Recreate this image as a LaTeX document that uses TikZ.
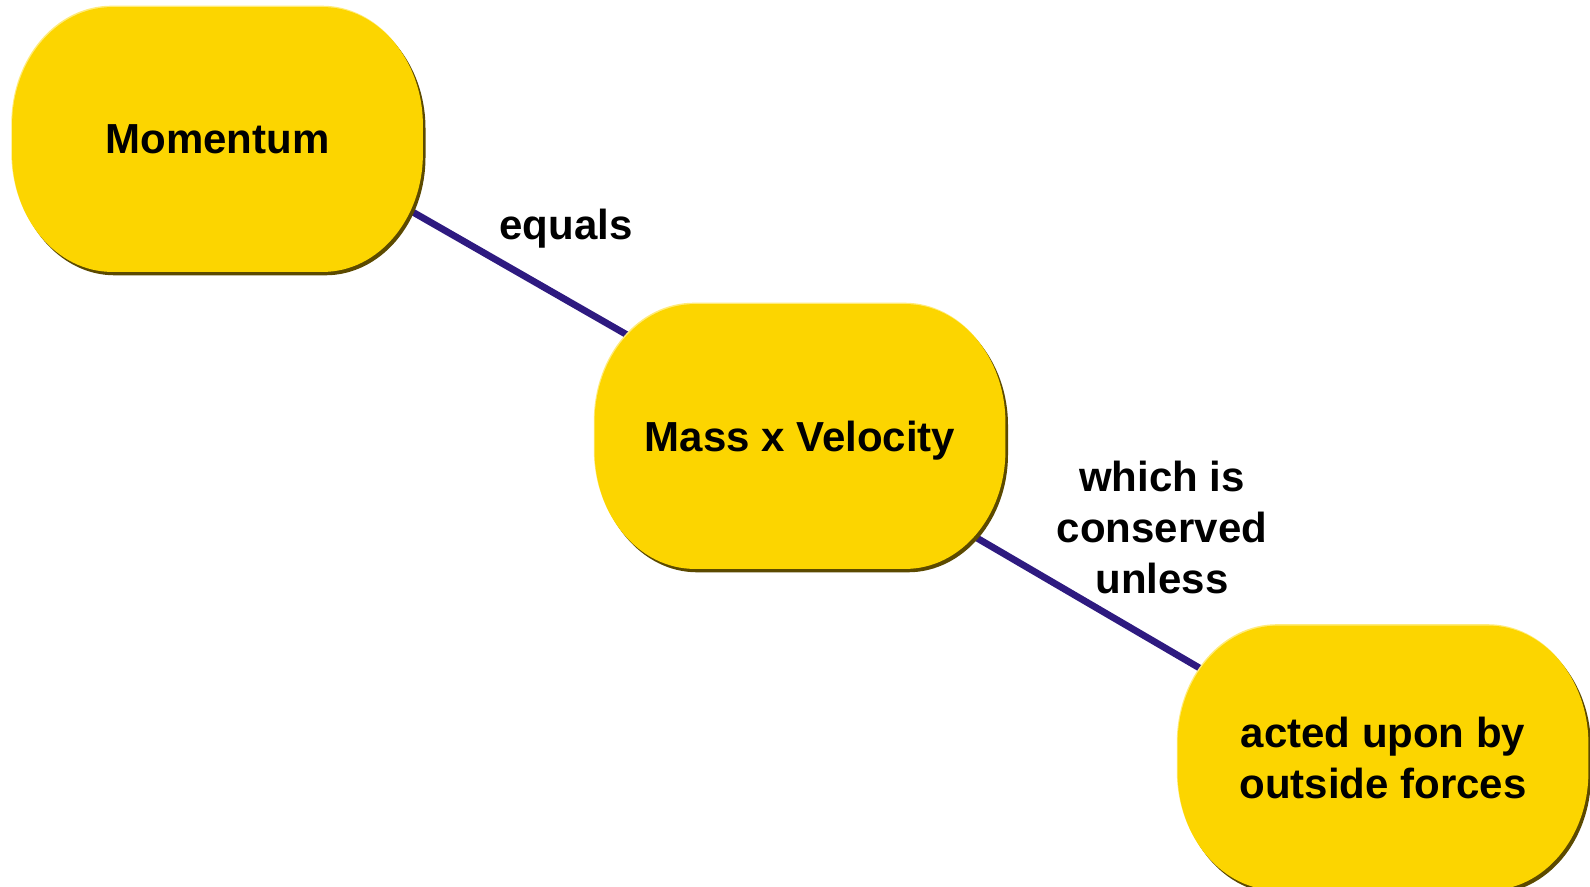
\documentclass[tikz,border=0pt]{standalone}
\usepackage{fontspec}
\setmainfont{Liberation Sans}
\usetikzlibrary{shapes,positioning,calc,backgrounds}
\definecolor{conceptfill}{HTML}{FCD500}
\definecolor{conceptrim}{HTML}{5C4A00}
\definecolor{conceptlight}{HTML}{FFEB7A}
\definecolor{linkcol}{HTML}{2E1A80}
\pgfdeclarelayer{shapes}
\pgfsetlayers{background,shapes,main}

% oval body with elliptic corners round a named node
\newcommand{\conceptpath}[1]{([xshift=50pt]#1.north west) -- ([xshift=-50pt]#1.north east)
  arc[start angle=90,end angle=0,x radius=50pt,y radius=59pt] -- ([yshift=59pt]#1.south east)
  arc[start angle=0,end angle=-90,x radius=50pt,y radius=59pt] -- ([xshift=50pt]#1.south west)
  arc[start angle=-90,end angle=-180,x radius=50pt,y radius=59pt] -- ([yshift=-59pt]#1.north west)
  arc[start angle=180,end angle=90,x radius=50pt,y radius=59pt] -- cycle}
\newcommand{\conceptbody}[1]{%
  \fill[conceptlight, transform canvas={shift={(-0.4pt,0.7pt)}}] \conceptpath{#1};
  \fill[conceptrim, transform canvas={shift={(1.3pt,-1.7pt)}}] \conceptpath{#1};
  \fill[conceptfill] \conceptpath{#1};}

\begin{document}
\begin{tikzpicture}[x=0.5pt,y=-0.5pt,
  concept/.style={rectangle, minimum width=205pt, minimum height=132pt, inner sep=0pt,
    align=center, font=\bfseries\fontsize{21}{25.5}\selectfont},
  linklabel/.style={align=center, font=\bfseries\fontsize{21}{25.5}\selectfont},
  link/.style={draw=linkcol, line width=3.4pt}]
\useasboundingbox (0,0) rectangle (1590,887);

\node[concept] (mom) at (217.5,139.5) {Momentum};
\node[concept, text depth=0pt] (mv) at (800,436.5) {Mass x Velocity};
\node[concept] (act) at (1383,758) {acted upon by\\outside forces};

\node[linklabel] (eq) at (566,229) {equals};
\node[linklabel] (cons) at (1162,527) {which is\\conserved\\unless};

\begin{pgfonlayer}{shapes}
\conceptbody{mom}
\conceptbody{mv}
\conceptbody{act}
\end{pgfonlayer}

\begin{pgfonlayer}{background}
\draw[link] ([shift={(112.5,25.1)}]mom.center) -- ([shift={(-100,-59.8)}]mv.center);
\draw[link] ([shift={(100,56.6)}]mv.center) -- ([shift={(-83,-31.3)}]act.center);
\end{pgfonlayer}

\end{tikzpicture}
\end{document}
